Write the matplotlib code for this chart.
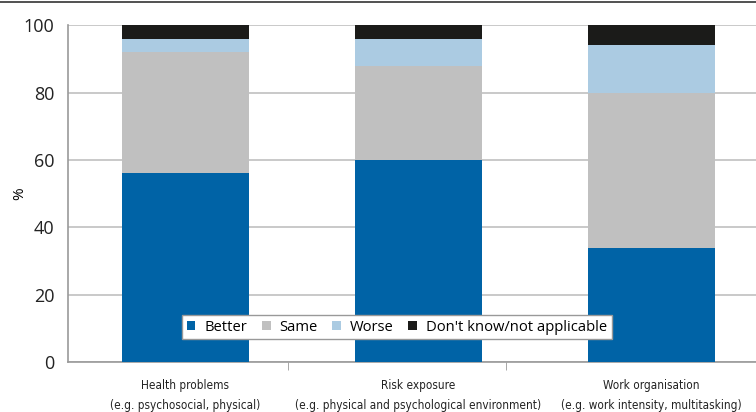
import matplotlib
matplotlib.use('Agg')
import matplotlib.pyplot as plt
from matplotlib.lines import Line2D
import numpy as np

categories = ['Health problems\n(e.g. psychosocial, physical)',
              'Risk exposure\n(e.g. physical and psychological environment)',
              'Work organisation\n(e.g. work intensity, multitasking)']
better = [56, 60, 34]
same = [36, 28, 46]
worse = [4, 8, 14]
dont_know = [4, 4, 6]
series_names = ['Better', 'Same', 'Worse', "Don't know/not applicable"]
colors = ['#0063a6', '#c0c0c0', '#abcbe2', '#1b1b19']

plt.rcParams['font.family'] = ['Open Sans', 'DejaVu Sans']

fig = plt.figure(figsize=(7.56, 4.12), dpi=100)
ax = fig.add_axes([0.09, 0.121, 0.91, 0.818])

x = np.arange(len(categories))
bottom = np.zeros(len(categories))
for vals, name, c in zip([better, same, worse, dont_know], series_names, colors):
    ax.bar(x, vals, 0.545, bottom=bottom, color=c, label=name, zorder=3)
    bottom += np.array(vals)

ax.set_ylim(0, 100)
ax.set_xlim(-0.504, 2.45)
ax.set_yticks(range(0, 101, 20))
ax.yaxis.grid(True, color='#c0c0c0', linewidth=1.2, zorder=0)
ax.set_xticks(x)
ax.set_xticklabels(categories, fontsize=8.5, family='DejaVu Sans', fontstretch='condensed',
                   linespacing=1.75, color='#222222')
ax.tick_params(axis='x', length=0, pad=12)
ax.set_xticks([0.44, 1.375], minor=True)
ax.tick_params(axis='x', which='minor', length=6, color='#999999', direction='out')
ax.tick_params(axis='y', length=0, labelsize=13, pad=10, colors='#222222')
ax.set_ylabel('%', fontsize=11)
ax.yaxis.set_label_coords(-0.06, 0.5)

for s in ['top', 'right']:
    ax.spines[s].set_visible(False)
ax.spines['left'].set_color('#999999')
ax.spines['bottom'].set_color('#999999')
ax.spines['left'].set_linewidth(1.2)
ax.spines['bottom'].set_linewidth(1.2)

leg = ax.legend(loc='center', bbox_to_anchor=(0.478, 0.104), ncol=4, fontsize=10.6,
                frameon=True, fancybox=False, framealpha=1, handlelength=0.6, handleheight=0.6,
                handletextpad=0.6, columnspacing=1.0, borderpad=0.3)
leg.get_frame().set_edgecolor('#999999')
leg.get_frame().set_linewidth(1.0)
leg.set_zorder(5)

fig.add_artist(Line2D([0, 1], [0.995, 0.995], color='#333333', linewidth=1.2,
                      transform=fig.transFigure))

fig.savefig('out.png', dpi=100)
